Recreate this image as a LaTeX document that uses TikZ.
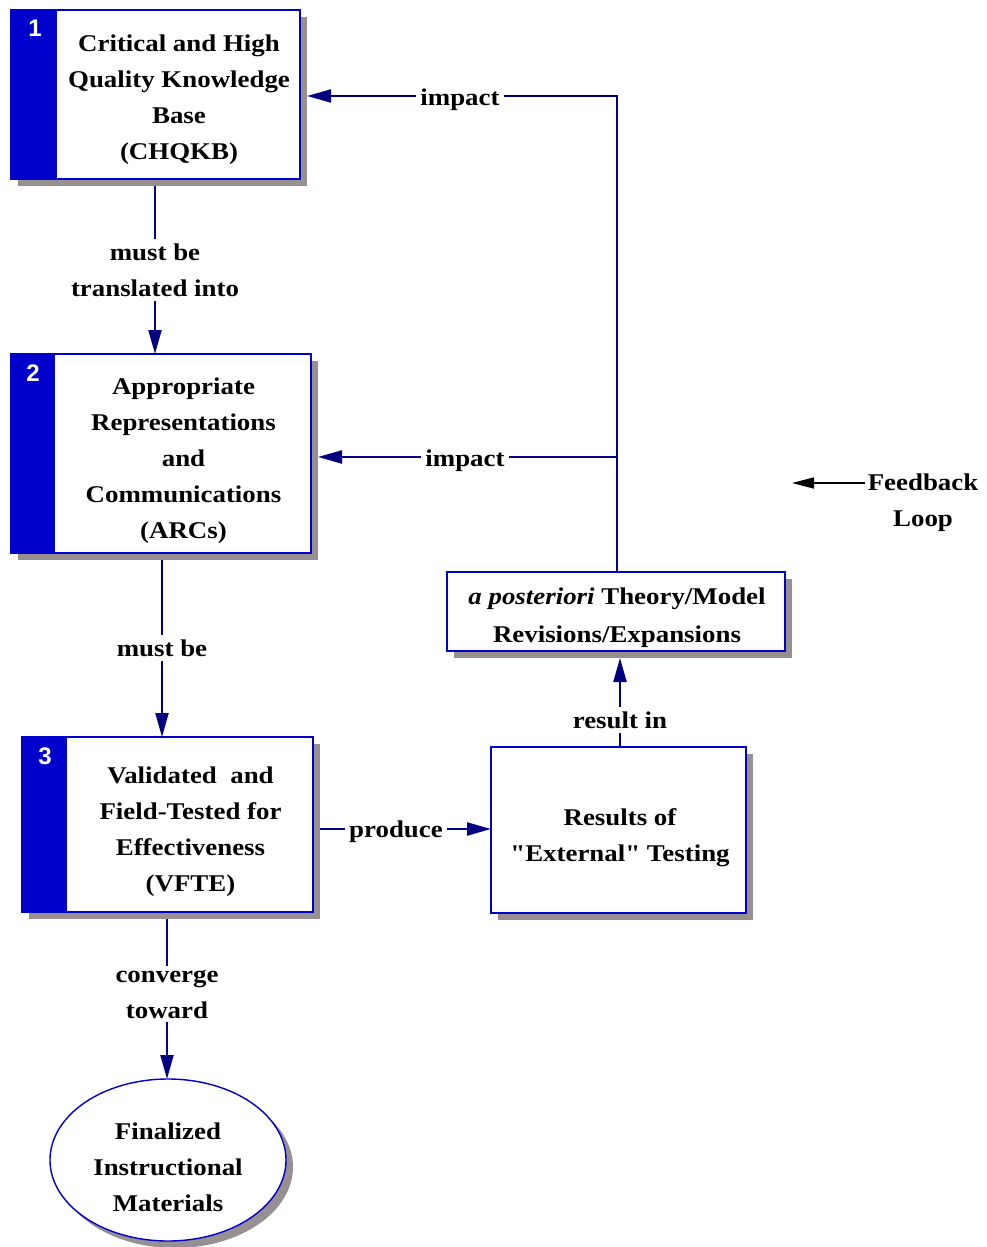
\documentclass[tikz,border=0pt]{standalone}
\usepackage{fontspec}
\setmainfont{Liberation Serif}[FakeStretch=1.12, Ligatures=TeXOff]
\newfontfamily\numfont{Liberation Sans}
\usetikzlibrary{arrows.meta,shapes.geometric,shadows,calc}
\definecolor{boxblue}{RGB}{0,0,204}
\definecolor{navyc}{RGB}{0,0,128}
\definecolor{shadowgray}{RGB}{152,144,144}
\tikzset{
  boxshape/.style={draw=boxblue, line width=1.4pt, fill=white, rectangle, inner sep=0pt,
    drop shadow={shadow xshift=7pt, shadow yshift=-7pt, opacity=1, fill=shadowgray}},
  txt/.style={font=\bfseries\fontsize{24}{36}\selectfont, align=center, inner sep=3pt},
  numlab/.style={font=\numfont\bfseries\fontsize{24}{24}\selectfont, text=white, inner sep=0pt},
  lbl/.style={txt, inner sep=4pt},
  conn/.style={draw=navyc, line width=2.2pt},
  arr/.style={conn, -{Triangle[length=24pt,width=13pt]}},
}
\begin{document}
\begin{tikzpicture}[x=1pt,y=-1pt]
\fill[white] (0,0) rectangle (986,1247);
\useasboundingbox (0,0) rectangle (986,1247);

% Box 1
\node[boxshape, minimum width=289pt, minimum height=169pt] (b1) at (155.5,94.5) {};
\fill[boxblue] (b1.north west) rectangle ($(b1.south west)+(47,0)$);
\node[numlab] (n1) at (35,28) {1};
\node[txt] (t1) at (179,100) {Critical and High\\Quality Knowledge\\Base\\(CHQKB)};

% Box 2
\node[boxshape, minimum width=300pt, minimum height=199pt] (b2) at (161,453.5) {};
\fill[boxblue] (b2.north west) rectangle ($(b2.south west)+(45,0)$);
\node[numlab] (n2) at (33,373) {2};
\node[txt] (t2) at (183.5,461) {Appropriate\\Representations\\and\\Communications\\(ARCs)};

% Box 3
\node[boxshape, minimum width=291pt, minimum height=175pt] (b3) at (167.5,824.5) {};
\fill[boxblue] (b3.north west) rectangle ($(b3.south west)+(46,0)$);
\node[numlab] (n3) at (45,756) {3};
\node[txt] (t3) at (190.5,832) {Validated\ \ and\\Field-Tested for\\Effectiveness\\(VFTE)};

% Theory box
\node[boxshape, minimum width=338pt, minimum height=79pt] (th) at (616,611.5) {};
\node[txt, font=\bfseries\fontsize{24}{38}\selectfont] (tth) at (617,618) {{\itshape a posteriori} Theory/Model\\Revisions/Expansions};

% Results box
\node[boxshape, minimum width=255pt, minimum height=166pt] (rs) at (618.5,830) {};
\node[txt] (trs) at (620,838) {Results of\\"External" Testing};

% Ellipse
\node[boxshape, ellipse, drop shadow={shadow xshift=6pt, shadow yshift=-6pt, opacity=1, fill=shadowgray}, minimum width=236pt, minimum height=162pt] (fin) at (168,1160) {};
\node[txt] (tfin) at (168,1167) {Finalized\\Instructional\\Materials};

% Connector coordinates
\coordinate (b1s) at (155,186);
\coordinate (b2n) at (155,354);
\coordinate (b2s) at (162,560);
\coordinate (b3n) at (162,737);
\coordinate (b3s) at (167,919);
\coordinate (finn) at (167,1079);
\coordinate (b3e) at (320,829);
\coordinate (rsw) at (491,829);
\coordinate (rsn) at (620,747);
\coordinate (ths) at (620,658);
\coordinate (thn) at (617,572);
\coordinate (c1) at (617,96);
\coordinate (c2) at (617,457);
\coordinate (b1e) at (307,96);
\coordinate (b2e) at (318,457);

% Labels
\node[lbl] (l1) at (155,270) {must be\\translated into};
\node[lbl] (l2) at (162,648) {must be};
\node[lbl] (l3) at (167,994) {converge\\toward};
\node[lbl] (lp) at (396,832) {produce};
\node[lbl] (lr) at (620,720) {result in};
\node[lbl] (li1) at (460,100) {impact};
\node[lbl] (li2) at (465,461) {impact};

% Connectors
\draw[arr] (b1s) -- (l1) -- (b2n);
\draw[arr] (b2s) -- (l2) -- (b3n);
\draw[arr] (b3s) -- (l3) -- (finn);
\draw[conn] (b3e) -- (lp.west |- b3e);
\draw[arr] (lp.east |- b3e) -- (rsw);
\draw[arr] (rsn) -- (lr) -- (ths);
\draw[conn] (thn) -- (c1) -- (li1.east |- c1);
\draw[arr] (li1.west |- c1) -- (b1e);
\draw[conn] (c2) -- (li2.east |- c2);
\draw[arr] (li2.west |- c2) -- (b2e);

% Feedback loop legend
\node[txt] (fb) at (923,503) {Feedback\\Loop};
\coordinate (fbtip) at (792,483);
\draw[black, line width=1.5pt, -{Triangle[length=22pt,width=11pt]}] (fb.west |- fbtip) -- (fbtip);
\end{tikzpicture}
\end{document}
